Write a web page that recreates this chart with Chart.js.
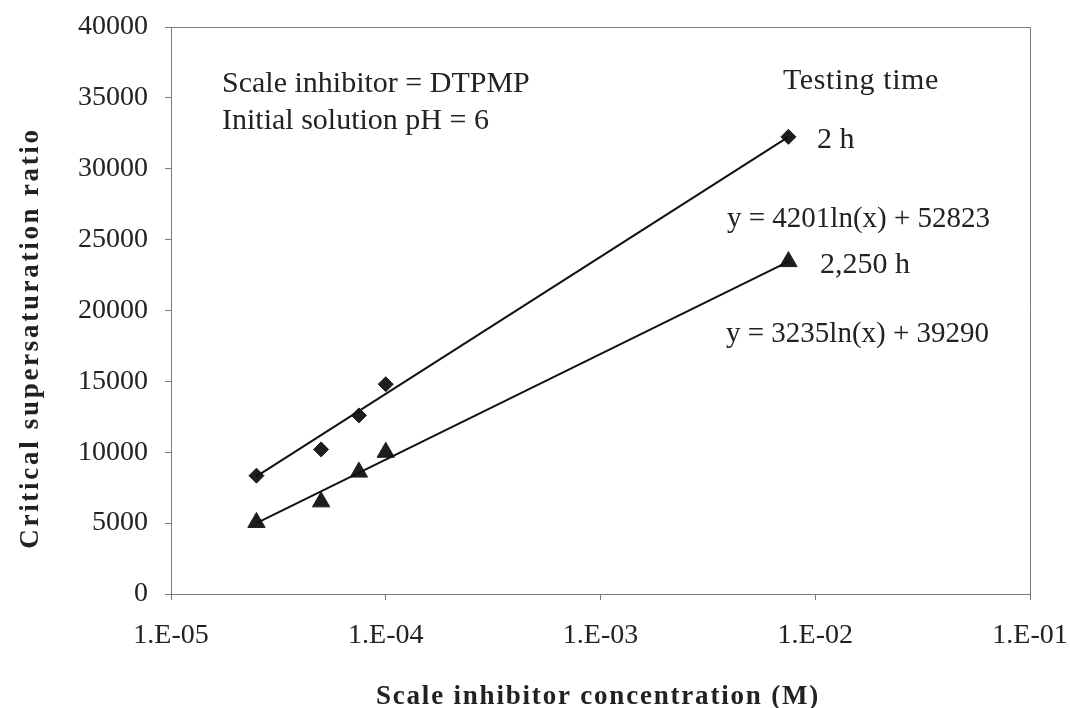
<!DOCTYPE html>
<html>
<head>
<meta charset="utf-8">
<script src="https://cdn.jsdelivr.net/npm/chart.js@4"></script>
<style>
    html, body { margin: 0; padding: 0; background: #fff; }
    #chart { display: block; }
</style>
</head>
<body>
<canvas id="chart" width="1070" height="708"></canvas>
<script>
// concentrations (M) and critical supersaturation ratios
const concentrations = [2.5e-5, 5e-5, 7.5e-5, 1e-4, 7.5e-3];
const ratio2h = [8350, 10200, 12600, 14800, 32250];
const ratio2250h = [5050, 6500, 8600, 10000, 23450];

// log trendline end points
const trendX = [2.5e-5, 7.5e-3];
const trend2h = [8300, 32250];
const trend2250h = [5000, 23450];

const xTickValues = [1e-5, 1e-4, 1e-3, 1e-2, 1e-1];
const xTickLabels = ['1.E-05', '1.E-04', '1.E-03', '1.E-02', '1.E-01'];
const yTickLabels = ['0', '5000', '10000', '15000', '20000', '25000', '30000', '35000', '40000'];

const serif = "'Liberation Serif', 'Times New Roman', serif";
const ink = '#222';
const axisGrey = '#7a7a7a';

const toPoints = (xs, ys) => xs.map((x, i) => ({ x: x, y: ys[i] }));

// top/right frame, axis titles and the text notes
const decorations = {
    id: 'decorations',
    afterDraw(chart) {
        const { ctx, chartArea } = chart;
        ctx.save();
        ctx.strokeStyle = axisGrey;
        ctx.lineWidth = 1;
        ctx.beginPath();
        ctx.moveTo(chartArea.left, chartArea.top + 0.5);
        ctx.lineTo(chartArea.right + 0.5, chartArea.top + 0.5);
        ctx.lineTo(chartArea.right + 0.5, chartArea.bottom);
        ctx.stroke();

        ctx.fillStyle = ink;
        ctx.textBaseline = 'alphabetic';
        ctx.textAlign = 'left';

        ctx.font = `30px ${serif}`;
        ctx.fillText('Scale inhibitor = DTPMP', 222, 92);
        ctx.fillText('Initial solution pH = 6', 222, 129);
        ctx.letterSpacing = '0.6px';
        ctx.fillText('Testing time', 783, 89);
        ctx.letterSpacing = '0px';
        ctx.fillText('2 h', 817, 148);
        ctx.fillText('2,250 h', 820, 273);
        ctx.font = `29px ${serif}`;
        ctx.fillText('y = 4201ln(x) + 52823', 727, 227);
        ctx.fillText('y = 3235ln(x) + 39290', 726, 342);

        // axis titles, letter spaced like the original
        ctx.font = `bold 27px ${serif}`;
        ctx.letterSpacing = '1.8px';
        ctx.textAlign = 'center';
        ctx.fillText('Scale inhibitor concentration (M)', 598, 704);

        ctx.letterSpacing = '2.7px';
        ctx.translate(38, 338);
        ctx.rotate(-Math.PI / 2);
        ctx.fillText('Critical supersaturation ratio', 0, 0);
        ctx.restore();
    }
};

new Chart(document.getElementById('chart'), {
    type: 'scatter',
    data: {
        datasets: [{
            label: '2 h trend',
            data: toPoints(trendX, trend2h),
            showLine: true,
            borderColor: '#111',
            borderWidth: 2,
            pointRadius: 0
        }, {
            label: '2,250 h trend',
            data: toPoints(trendX, trend2250h),
            showLine: true,
            borderColor: '#111',
            borderWidth: 2,
            pointRadius: 0
        }, {
            label: '2 h',
            data: toPoints(concentrations, ratio2h),
            pointStyle: 'rectRot',
            pointRadius: 7.5,
            backgroundColor: '#1e1e1e',
            borderColor: '#1e1e1e',
            borderWidth: 1
        }, {
            label: '2,250 h',
            data: toPoints(concentrations, ratio2250h),
            pointStyle: 'triangle',
            pointRadius: 10,
            backgroundColor: '#1e1e1e',
            borderColor: '#1e1e1e',
            borderWidth: 1
        }]
    },
    options: {
        responsive: false,
        animation: false,
        layout: { padding: { left: 0, right: 40, top: 27, bottom: 0 } },
        plugins: {
            legend: { display: false },
            tooltip: { enabled: false }
        },
        scales: {
            x: {
                type: 'logarithmic',
                min: 1e-5,
                max: 1e-1,
                afterBuildTicks: scale => {
                    scale.ticks = xTickValues.map(v => ({ value: v }));
                },
                afterFit: scale => {
                    scale.height = 114;
                    scale.paddingRight = 0;
                },
                border: { color: axisGrey, width: 1 },
                grid: { drawOnChartArea: false, drawTicks: true, tickLength: 6, color: axisGrey },
                ticks: {
                    autoSkip: false,
                    maxRotation: 0,
                    padding: 19,
                    color: ink,
                    font: { family: serif, size: 28 },
                    callback: (value, index) => xTickLabels[index]
                }
            },
            y: {
                min: 0,
                max: 40000,
                afterFit: scale => {
                    scale.width = 171;
                    scale.paddingTop = 0;
                },
                border: { color: axisGrey, width: 1 },
                grid: { drawOnChartArea: false, drawTicks: true, tickLength: 6, color: axisGrey },
                ticks: {
                    stepSize: 5000,
                    padding: 17,
                    color: ink,
                    font: { family: serif, size: 28 },
                    callback: (value, index) => yTickLabels[index]
                }
            }
        }
    },
    plugins: [decorations]
});
</script>
</body>
</html>
